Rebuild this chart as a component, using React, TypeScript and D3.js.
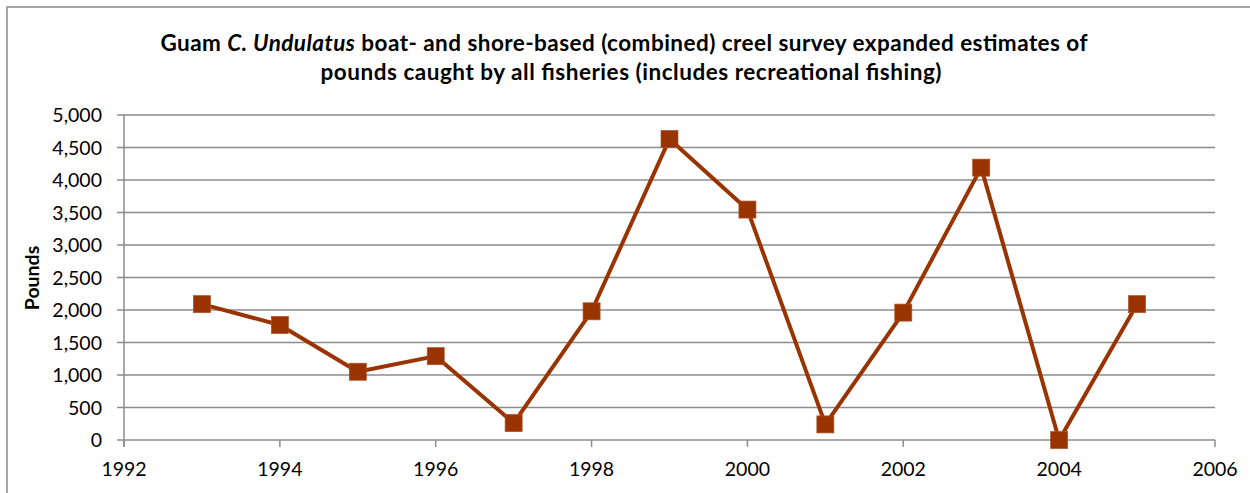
import React from "react";
import * as d3 from "d3";

const years = [1993, 1994, 1995, 1996, 1997, 1998, 1999, 2000, 2001, 2002, 2003, 2004, 2005];
const pounds = [2090, 1770, 1050, 1290, 260, 1980, 4630, 3545, 240, 1960, 4190, 0, 2090];
const yTicks = [0, 500, 1000, 1500, 2000, 2500, 3000, 3500, 4000, 4500, 5000];
const xTicks = [1992, 1994, 1996, 1998, 2000, 2002, 2004, 2006];

const W = 1250;
const H = 493;
const LEFT = 124;
const RIGHT = 1215;
const TOP = 115;
const BOTTOM = 440;
const COLOR = "#993300";
const GRID = "#8c8c8c";
const FONT = "Lato, 'Open Sans', sans-serif";

export default function App() {
  const x = d3.scaleLinear().domain([1992, 2006]).range([LEFT, RIGHT]);
  const y = d3.scaleLinear().domain([0, 5000]).range([BOTTOM, TOP]);
  const line = d3
    .line<number>()
    .x((_, i) => x(years[i]))
    .y((d) => y(d));
  const fmt = d3.format(",");
  const ms = 17;

  return (
    <svg
      width={W}
      height={H}
      style={{ position: "absolute", left: 0, top: 0, background: "#fff" }}
    >
      <rect x={7} y={7} width={W + 20} height={H + 20} fill="#fff" stroke="#8a8a8a" strokeWidth={1.5} />
      <text x={624} y={51} textAnchor="middle" fontFamily={FONT} fontWeight="bold" fontSize={22.5} fill="#000"
        textLength={927} lengthAdjust="spacing">
        Guam <tspan fontStyle="italic">C. Undulatus</tspan> boat- and shore-based  (combined) creel survey expanded estimates of
      </text>
      <text x={631} y={80} textAnchor="middle" fontFamily={FONT} fontWeight="bold" fontSize={22.5} fill="#000"
        textLength={621} lengthAdjust="spacing">
        pounds caught by all fisheries (includes recreational fishing)
      </text>
      {yTicks.map((t) => (
        <g key={"y" + t}>
          <line x1={LEFT} x2={RIGHT} y1={y(t)} y2={y(t)} stroke={GRID} strokeWidth={1.5} />
          <line x1={117} x2={LEFT} y1={y(t)} y2={y(t)} stroke={GRID} strokeWidth={1.5} />
          <text x={102} y={y(t)} dy="0.36em" textAnchor="end" fontFamily={FONT} fontSize={19.5} fill="#000">
            {fmt(t)}
          </text>
        </g>
      ))}
      <line x1={LEFT} x2={LEFT} y1={TOP} y2={BOTTOM + 7} stroke={GRID} strokeWidth={1.5} />
      {xTicks.map((t) => (
        <g key={"x" + t}>
          <line x1={x(t)} x2={x(t)} y1={BOTTOM} y2={BOTTOM + 7} stroke={GRID} strokeWidth={1.5} />
          <text x={x(t)} y={476} textAnchor="middle" fontFamily={FONT} fontSize={19.5} fill="#000">
            {t}
          </text>
        </g>
      ))}
      <text
        transform={`translate(39,${278}) rotate(-90)`}
        textAnchor="middle"
        fontFamily={FONT}
        fontWeight="bold"
        fontSize={19.5}
        fill="#000"
      >
        Pounds
      </text>
      <path d={line(pounds) || ""} fill="none" stroke={COLOR} strokeWidth={4} strokeLinejoin="round" />
      {pounds.map((v, i) => (
        <rect
          key={"m" + i}
          x={x(years[i]) - ms / 2}
          y={y(v) - ms / 2}
          width={ms}
          height={ms}
          fill={COLOR}
          stroke="#b0532a"
          strokeWidth={0.75}
        />
      ))}
    </svg>
  );
}
